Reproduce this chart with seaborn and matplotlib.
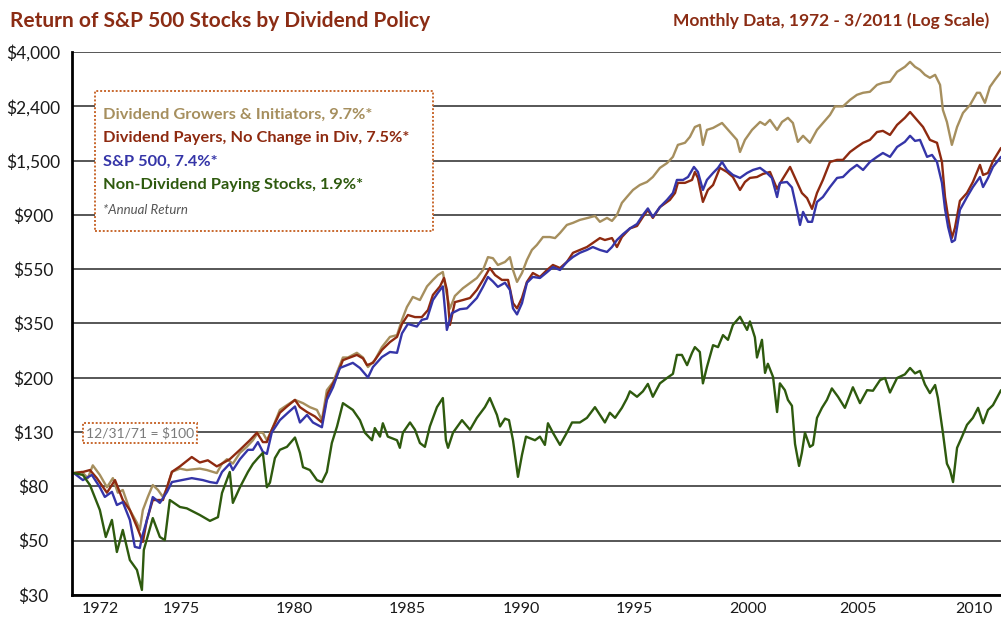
import numpy as np
import pandas as pd
import seaborn as sns
import matplotlib
matplotlib.use("Agg")
import matplotlib.pyplot as plt
from matplotlib.patches import Rectangle
from matplotlib.ticker import FixedLocator, NullLocator

# ---------------- data (decimal year, index value $) ----------------
series_names = [
    "Dividend Growers & Initiators",
    "Dividend Payers, No Change in Div",
    "S&P 500",
    "Non-Dividend Paying Stocks",
]
annual_returns = ["9.7%", "7.5%", "7.4%", "1.9%"]

growers = [
    (1972.00, 90), (1972.34, 91), (1972.59, 86), (1972.80, 96.5), (1973.10, 88.5), (1973.40, 79.2),
    (1973.65, 86), (1973.86, 75.4), (1974.07, 77.3), (1974.37, 64.5), (1974.67, 57.5), (1974.79, 53.9),
    (1974.92, 64.5), (1975.13, 72.6), (1975.34, 80.8), (1975.56, 77.3), (1975.77, 72.6), (1975.94, 78.5),
    (1976.15, 91), (1976.49, 93.7), (1976.78, 92.5), (1977.33, 93.7), (1977.63, 92.5), (1978.05, 90),
    (1978.27, 98), (1978.48, 102), (1978.73, 98), (1979.03, 108), (1979.32, 114), (1979.58, 121),
    (1979.79, 129.5), (1980.00, 129.5), (1980.17, 121), (1980.38, 133), (1980.72, 159), (1981.02, 166),
    (1981.36, 174), (1981.70, 169), (1981.99, 163), (1982.29, 159), (1982.50, 145), (1982.71, 190),
    (1982.97, 204), (1983.39, 255), (1983.60, 255), (1983.98, 266), (1984.24, 255), (1984.45, 234),
    (1984.74, 249), (1985.04, 280), (1985.38, 307), (1985.68, 312), (1985.89, 358), (1986.10, 402),
    (1986.35, 440), (1986.65, 428), (1986.95, 484), (1987.20, 513), (1987.41, 536), (1987.62, 551),
    (1987.79, 448), (1987.92, 396), (1988.13, 444), (1988.47, 476), (1988.77, 499), (1989.06, 522),
    (1989.32, 561), (1989.53, 630), (1989.74, 624), (1989.95, 587), (1990.25, 603), (1990.46, 630),
    (1990.59, 561), (1990.76, 504), (1990.97, 546), (1991.18, 614), (1991.39, 672), (1991.60, 703),
    (1991.86, 755), (1992.15, 755), (1992.37, 748), (1992.58, 783), (1992.87, 842), (1993.13, 858),
    (1993.42, 881), (1993.76, 897), (1994.06, 913), (1994.27, 866), (1994.57, 897), (1994.78, 873),
    (1994.99, 921), (1995.20, 1027), (1995.41, 1083), (1995.67, 1154), (1995.96, 1207), (1996.26, 1240),
    (1996.51, 1297), (1996.81, 1408), (1997.11, 1470), (1997.36, 1555), (1997.57, 1732), (1997.87, 1765),
    (1998.08, 1862), (1998.29, 2035), (1998.50, 2074), (1998.63, 1732), (1998.80, 1983), (1999.06, 2018),
    (1999.44, 2110), (1999.78, 1945), (2000.07, 1812), (2000.20, 1625), (2000.41, 1812), (2000.71, 1983),
    (2001.05, 2130), (2001.26, 2074), (2001.47, 2170), (2001.77, 1983), (2001.98, 2130), (2002.23, 2210),
    (2002.44, 2110), (2002.65, 1780), (2002.87, 1880), (2003.16, 1765), (2003.46, 1983), (2003.71, 2110),
    (2004.01, 2270), (2004.22, 2450), (2004.56, 2450), (2004.86, 2599), (2005.15, 2719), (2005.41, 2770),
    (2005.70, 2795), (2006.00, 2975), (2006.25, 3030), (2006.55, 3060), (2006.85, 3345), (2007.18, 3500),
    (2007.40, 3660), (2007.61, 3500), (2007.82, 3406), (2008.03, 3256), (2008.24, 3170), (2008.46, 3256),
    (2008.67, 2975), (2008.79, 2374), (2008.96, 2130), (2009.17, 1732), (2009.39, 2035), (2009.64, 2310),
    (2009.94, 2484), (2010.23, 2770), (2010.36, 2770), (2010.57, 2530), (2010.78, 2920), (2010.99, 3112),
    (2011.25, 3345),
]

payers = [
    (1972.00, 90), (1972.38, 90.9), (1972.68, 92.5), (1972.97, 86), (1973.40, 75.4), (1973.74, 84.5),
    (1974.07, 70.6), (1974.37, 64.5), (1974.67, 55.4), (1974.92, 48.4), (1975.09, 59), (1975.34, 70.6),
    (1975.77, 70.6), (1975.94, 79.2), (1976.15, 91), (1976.49, 95.6), (1976.99, 104), (1977.33, 99),
    (1977.67, 101), (1978.05, 95.6), (1978.27, 98), (1978.60, 102), (1979.03, 111), (1979.45, 121),
    (1979.75, 129.5), (1980.00, 119), (1980.17, 119), (1980.38, 133), (1980.72, 155), (1981.02, 164),
    (1981.36, 174), (1981.57, 163), (1981.87, 156), (1982.20, 150), (1982.50, 142), (1982.75, 185),
    (1983.05, 208), (1983.39, 249), (1983.69, 255), (1983.98, 261), (1984.24, 253), (1984.41, 238),
    (1984.66, 243), (1985.04, 273), (1985.38, 293), (1985.68, 307), (1985.89, 345), (1986.14, 374),
    (1986.44, 367), (1986.73, 367), (1986.99, 391), (1987.20, 448), (1987.50, 484), (1987.67, 522),
    (1987.79, 469), (1987.92, 342), (1988.13, 420), (1988.47, 428), (1988.77, 436), (1989.06, 469),
    (1989.32, 513), (1989.61, 571), (1989.83, 536), (1990.12, 513), (1990.38, 513), (1990.59, 416),
    (1990.76, 397), (1990.97, 436), (1991.18, 504), (1991.43, 546), (1991.73, 527), (1992.03, 561),
    (1992.28, 587), (1992.58, 571), (1992.87, 603), (1993.13, 655), (1993.42, 672), (1993.72, 690),
    (1993.97, 716), (1994.27, 748), (1994.48, 735), (1994.78, 748), (1994.99, 690), (1995.20, 755),
    (1995.54, 816), (1995.84, 834), (1996.09, 905), (1996.30, 964), (1996.51, 897), (1996.81, 989),
    (1997.23, 1055), (1997.45, 1123), (1997.57, 1230), (1997.87, 1230), (1998.17, 1263), (1998.29, 1357),
    (1998.42, 1286), (1998.63, 1036), (1998.84, 1154), (1999.06, 1207), (1999.35, 1408), (1999.65, 1357),
    (1999.90, 1297), (2000.20, 1154), (2000.41, 1240), (2000.62, 1286), (2000.92, 1297), (2001.17, 1333),
    (2001.47, 1357), (2001.77, 1165), (2001.98, 1263), (2002.32, 1420), (2002.61, 1240), (2002.82, 1123),
    (2003.04, 1072), (2003.25, 973), (2003.46, 1123), (2003.71, 1263), (2004.01, 1485), (2004.31, 1513),
    (2004.56, 1513), (2004.86, 1625), (2005.15, 1700), (2005.41, 1765), (2005.70, 1812), (2006.00, 1945),
    (2006.25, 1965), (2006.55, 1895), (2006.85, 2074), (2007.18, 2210), (2007.40, 2330), (2007.69, 2170),
    (2007.95, 2035), (2008.24, 1812), (2008.54, 1765), (2008.75, 1485), (2008.88, 1083), (2009.01, 905),
    (2009.17, 749), (2009.30, 820), (2009.51, 1046), (2009.81, 1123), (2010.06, 1240), (2010.36, 1446),
    (2010.49, 1321), (2010.70, 1345), (2010.91, 1497), (2011.25, 1684),
]

sp500 = [
    (1972.00, 90), (1972.38, 84.5), (1972.76, 88.5), (1973.10, 79.2), (1973.31, 72.6), (1973.61, 76),
    (1973.82, 67.5), (1974.07, 69.3), (1974.37, 59), (1974.58, 46.3), (1974.79, 45.8), (1974.88, 50.4),
    (1975.13, 60.6), (1975.34, 72.5), (1975.64, 68.8), (1975.94, 75.9), (1976.15, 83), (1976.57, 84.5),
    (1976.99, 86), (1977.46, 84.5), (1977.76, 83), (1978.05, 82.2), (1978.27, 90.9), (1978.60, 98),
    (1978.73, 92.5), (1979.03, 102), (1979.37, 111), (1979.58, 111), (1979.79, 119), (1980.00, 109),
    (1980.17, 107), (1980.38, 130), (1980.72, 145), (1981.06, 155), (1981.36, 164), (1981.57, 142),
    (1981.87, 152), (1982.12, 142), (1982.50, 136), (1982.71, 174), (1982.97, 195), (1983.26, 232),
    (1983.56, 238), (1983.81, 243), (1984.11, 232), (1984.45, 213), (1984.66, 234), (1985.04, 256),
    (1985.38, 268), (1985.68, 266), (1985.89, 317), (1986.14, 345), (1986.52, 337), (1986.73, 358),
    (1986.95, 362), (1987.20, 428), (1987.41, 457), (1987.62, 484), (1987.79, 327), (1988.00, 380),
    (1988.34, 394), (1988.64, 397), (1989.06, 436), (1989.32, 482), (1989.53, 527), (1989.74, 506),
    (1989.95, 482), (1990.25, 500), (1990.46, 469), (1990.59, 397), (1990.76, 376), (1990.97, 416),
    (1991.18, 500), (1991.43, 527), (1991.73, 522), (1992.03, 550), (1992.28, 576), (1992.58, 561),
    (1992.87, 603), (1993.13, 631), (1993.42, 655), (1993.72, 672), (1993.97, 690), (1994.27, 672),
    (1994.57, 660), (1994.78, 690), (1994.99, 735), (1995.24, 774), (1995.54, 816), (1995.84, 849),
    (1996.09, 921), (1996.30, 977), (1996.51, 905), (1996.81, 989), (1997.11, 1055), (1997.36, 1123),
    (1997.53, 1263), (1997.79, 1263), (1998.00, 1297), (1998.25, 1420), (1998.42, 1357), (1998.63, 1154),
    (1998.80, 1263), (1999.06, 1345), (1999.27, 1408), (1999.44, 1485), (1999.65, 1382), (1999.90, 1321),
    (2000.20, 1286), (2000.50, 1345), (2000.75, 1382), (2001.05, 1408), (2001.34, 1345), (2001.55, 1286),
    (2001.77, 1083), (2001.89, 1230), (2002.19, 1240), (2002.40, 1180), (2002.61, 964), (2002.74, 842),
    (2002.87, 947), (2003.08, 866), (2003.25, 866), (2003.46, 1036), (2003.71, 1083), (2004.01, 1185),
    (2004.31, 1286), (2004.56, 1297), (2004.86, 1382), (2005.15, 1446), (2005.41, 1382), (2005.70, 1485),
    (2006.00, 1555), (2006.25, 1610), (2006.55, 1555), (2006.85, 1700), (2007.18, 1780), (2007.40, 1880),
    (2007.61, 1795), (2007.82, 1812), (2008.12, 1555), (2008.33, 1582), (2008.54, 1485), (2008.75, 1230),
    (2008.88, 973), (2009.01, 827), (2009.17, 722), (2009.30, 735), (2009.51, 964), (2009.81, 1083),
    (2010.06, 1185), (2010.36, 1297), (2010.49, 1185), (2010.70, 1286), (2010.91, 1420), (2011.25, 1555),
]

non_payers = [
    (1972.00, 90), (1972.38, 88.5), (1972.68, 80.8), (1973.10, 64.5), (1973.35, 50.6), (1973.61, 59),
    (1973.82, 44.2), (1974.07, 53.9), (1974.37, 41.1), (1974.67, 37.6), (1974.88, 31.4), (1974.96, 45),
    (1975.34, 60), (1975.64, 50.6), (1975.85, 49.2), (1976.06, 70.6), (1976.49, 66.3), (1976.78, 65.5),
    (1977.33, 61.7), (1977.76, 58.5), (1978.10, 60.5), (1978.27, 75.2), (1978.60, 90.9), (1978.73, 68.8),
    (1979.03, 79.2), (1979.37, 91), (1979.58, 97.8), (1979.79, 103), (1980.00, 108), (1980.17, 79.2),
    (1980.30, 82.6), (1980.51, 103), (1980.72, 111), (1981.02, 114), (1981.36, 124), (1981.57, 108),
    (1981.70, 94.9), (1981.99, 92.5), (1982.29, 84.5), (1982.50, 83), (1982.71, 90.9), (1982.92, 118),
    (1983.14, 137), (1983.39, 169), (1983.60, 164), (1983.81, 159), (1984.11, 145), (1984.32, 129.5),
    (1984.62, 121), (1984.74, 135), (1984.96, 125), (1985.08, 141), (1985.29, 125), (1985.68, 121),
    (1985.80, 113), (1985.93, 129.5), (1986.23, 142), (1986.44, 133), (1986.65, 118), (1986.86, 114),
    (1987.07, 137), (1987.37, 163), (1987.62, 177), (1987.75, 121), (1987.84, 113), (1988.05, 129.5),
    (1988.43, 145), (1988.77, 133), (1989.06, 148), (1989.40, 163), (1989.61, 177), (1989.91, 152),
    (1990.04, 137), (1990.25, 147), (1990.42, 145), (1990.59, 121), (1990.80, 87), (1990.97, 106),
    (1991.14, 125), (1991.52, 121), (1991.73, 125), (1991.94, 116), (1992.07, 141), (1992.28, 129.5),
    (1992.58, 116), (1992.87, 129.5), (1993.09, 142), (1993.42, 142), (1993.72, 148), (1994.06, 163),
    (1994.27, 152), (1994.48, 142), (1994.69, 155), (1994.91, 148), (1995.20, 162), (1995.41, 176),
    (1995.54, 188), (1995.84, 179), (1996.09, 188), (1996.30, 201), (1996.51, 179), (1996.81, 202),
    (1997.11, 212), (1997.36, 220), (1997.53, 261), (1997.74, 261), (1997.96, 238), (1998.17, 266),
    (1998.29, 280), (1998.50, 268), (1998.63, 202), (1998.80, 234), (1999.06, 285), (1999.27, 280),
    (1999.48, 312), (1999.69, 299), (1999.90, 342), (2000.20, 368), (2000.50, 327), (2000.62, 353),
    (2000.83, 306), (2000.92, 255), (2001.13, 299), (2001.26, 222), (2001.38, 241), (2001.60, 214),
    (2001.77, 156), (2001.89, 202), (2002.10, 190), (2002.23, 174), (2002.40, 165), (2002.53, 117),
    (2002.70, 96), (2002.82, 108), (2002.95, 129.5), (2003.16, 114), (2003.29, 116), (2003.46, 148),
    (2003.67, 162), (2003.88, 174), (2004.09, 193), (2004.35, 179), (2004.64, 162), (2004.98, 195),
    (2005.28, 169), (2005.58, 190), (2005.83, 189), (2006.13, 208), (2006.34, 212), (2006.55, 186),
    (2006.85, 212), (2007.18, 219), (2007.40, 232), (2007.61, 221), (2007.82, 226), (2008.03, 200),
    (2008.24, 185), (2008.46, 199), (2008.58, 177), (2008.79, 129.5), (2008.96, 98), (2009.09, 92.5),
    (2009.22, 83), (2009.39, 113), (2009.60, 125), (2009.81, 139), (2010.06, 148), (2010.28, 162),
    (2010.49, 141), (2010.70, 159), (2010.91, 166), (2011.25, 190),
]

year_labels = ["1972", "1975", "1980", "1985", "1990", "1995", "2000", "2005", "2010"]
year_label_pos = [1973.10, 1976.53, 1981.32, 1986.12, 1990.93, 1995.74, 2000.54, 2005.20, 2010.11]
y_labels = ["$30", "$50", "$80", "$130", "$200", "$350", "$550", "$900", "$1,500", "$2,400", "$4,000"]

# ---------------- styling ----------------
colors = ["#A68F5E", "#8E2A10", "#3535A8", "#2E5A0E"]
title_color = "#8B2C14"
box_edge = "#C8682E"

sns.set_style("white")
plt.rcParams["font.family"] = ["Lato", "DejaVu Sans"]

frames = []
for name, pts in zip(series_names, [growers, payers, sp500, non_payers]):
    arr = np.array(pts, dtype=float)
    frames.append(pd.DataFrame({"date": arr[:, 0], "value": arr[:, 1], "series": name}))
df = pd.concat(frames, ignore_index=True)

W, H = 1001, 620
fig = plt.figure(figsize=(W / 100, H / 100), dpi=100)
ax_l, ax_r, ax_t, ax_b = 72, 1001, 52, 595
ax = fig.add_axes([ax_l / W, 1 - ax_b / H, (ax_r - ax_l) / W, (ax_b - ax_t) / H])

sns.lineplot(data=df, x="date", y="value", hue="series", hue_order=series_names,
             palette=colors, sort=False, estimator=None, legend=False,
             linewidth=1.7, ax=ax)

ax.set_yscale("log")
ymin, ymax = 30, 4000
ax.set_ylim(ymin, ymax)
ax.set_xlim(1971.92, 2011.25)
yt = [ymin * (ymax / ymin) ** (k / 10) for k in range(11)]
ax.yaxis.set_major_locator(FixedLocator(yt))
ax.yaxis.set_minor_locator(NullLocator())
ax.set_yticklabels(y_labels)
ax.set_xticks(year_label_pos)
ax.set_xticklabels(year_labels)
ax.set_xlabel("")
ax.set_ylabel("")
ax.tick_params(axis="y", length=0, pad=28, labelsize=12.5, labelcolor="#1a1a1a")
ax.tick_params(axis="x", length=0, pad=5, labelsize=11.5, labelcolor="#1a1a1a")
for lab in ax.get_yticklabels():
    lab.set_horizontalalignment("center")

ax.yaxis.grid(True, color="#3a3a3a", linewidth=1.2)
ax.xaxis.grid(False)
ax.set_axisbelow(True)
for s in ["top", "right"]:
    ax.spines[s].set_visible(False)
for s in ["left", "bottom"]:
    ax.spines[s].set_color("black")
    ax.spines[s].set_linewidth(2.0)

def fx(x):
    return x / W

def fy(y):
    return 1 - y / H

# title and subtitle
fig.text(fx(10), fy(21), "Return of S&P 500 Stocks by Dividend Policy", color=title_color,
         fontsize=15, fontweight="bold", ha="left", va="center")
fig.text(fx(989), fy(21), "Monthly Data, 1972 - 3/2011 (Log Scale)", color=title_color,
         fontsize=12.5, fontweight="bold", ha="right", va="center")

# legend box
fig.patches.append(Rectangle((fx(95), fy(231)), fx(433) - fx(95), fy(91) - fy(231),
                             transform=fig.transFigure, facecolor="white", edgecolor=box_edge,
                             linewidth=1.4, linestyle=(0, (1, 1)), zorder=5))
legend_y = [115, 138, 162, 185]
for name, ret, c, yy in zip(series_names, annual_returns, colors, legend_y):
    fig.text(fx(103), fy(yy), f"{name}, {ret}*", color=c, fontsize=11.8, fontweight="bold",
             ha="left", va="center", zorder=6)
fig.text(fx(103), fy(210), "*Annual Return", color="#555555", fontsize=9.5, style="italic",
         ha="left", va="center", zorder=6)

# base annotation
fig.patches.append(Rectangle((fx(83), fy(443)), fx(197) - fx(83), fy(423) - fy(443),
                             transform=fig.transFigure, facecolor="white", edgecolor=box_edge,
                             linewidth=1.4, linestyle=(0, (1, 1)), zorder=5))
fig.text(fx(140), fy(433), "12/31/71 = $100", color="#7a7a7a", fontsize=10,
         ha="center", va="center", zorder=6)

fig.savefig("out.png", dpi=100)
